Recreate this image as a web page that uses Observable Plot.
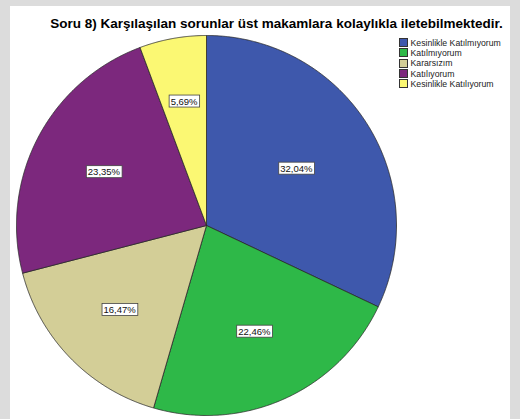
<!DOCTYPE html>
<html><head><meta charset="utf-8">
<script src="https://cdn.jsdelivr.net/npm/d3@7"></script>
<script src="https://cdn.jsdelivr.net/npm/@observablehq/plot@0.6"></script>
<style>
html,body{margin:0;padding:0;}
body{background:#dcdcdc;width:520px;height:419px;overflow:hidden;position:relative;font-family:Arial,"Liberation Sans",sans-serif;}
#panel{position:absolute;left:10px;top:6px;width:500px;height:413px;background:#fff;}
#chart{position:absolute;left:0;top:0;}
#title{position:absolute;left:0;top:16px;width:553px;text-align:center;font-weight:bold;font-size:13.5px;line-height:15px;color:#000;white-space:nowrap;}
#legend{position:absolute;left:399px;top:37.5px;font-size:8.7px;color:#222;}
#legend .row{display:flex;align-items:center;height:10.3px;}
#legend .sw{width:7px;height:7px;border:0.8px solid #333;margin-right:2.5px;}
</style>
</head><body>
<div id="panel"></div>
<div id="chart"></div>
<div id="title"></div>
<div id="legend"></div>
<script>
const titleText = "Soru 8) Karşılaşılan sorunlar üst makamlara kolaylıkla iletebilmektedir.";
const categories = ["Kesinlikle Katılmıyorum", "Katılmıyorum", "Kararsızım", "Katılıyorum", "Kesinlikle Katılıyorum"];
const values = [32.04, 22.46, 16.47, 23.35, 5.69];
const colors = ["#3e58ac", "#2eb848", "#d3ce97", "#7c287d", "#fbf873"];

document.getElementById("title").textContent = titleText;

const arcs = d3.pie().sort(null).value(d => d)(values);
const slices = arcs.map((a, i) => {
  const pts = [{x: 0, y: 0}];
  const n = Math.max(4, Math.ceil((a.endAngle - a.startAngle) / 0.005));
  for (let k = 0; k <= n; k++) {
    const t = a.startAngle + (a.endAngle - a.startAngle) * k / n;
    pts.push({x: Math.sin(t), y: Math.cos(t)});
  }
  pts.push({x: 0, y: 0});
  return {cat: categories[i], color: colors[i], pts};
});
// label at slice centroid
const labels = arcs.map((a, i) => {
  const h = (a.endAngle - a.startAngle) / 2;
  const mid = a.startAngle + h;
  const r = 2 * Math.sin(h) / (3 * h);
  return {x: r * Math.sin(mid), y: r * Math.cos(mid), text: values[i].toFixed(2).replace(".", ",") + "%"};
});

const plot = Plot.plot({
  width: 520, height: 419,
  margin: 0,
  style: {background: "transparent", overflow: "visible"},
  x: {domain: [-1, 1], range: [16, 396], axis: null},
  y: {domain: [-1, 1], range: [415, 35], axis: null},
  marks: [
    ...slices.map(s => Plot.line(s.pts, {x: "x", y: "y", fill: s.color, stroke: "#2a2a2a", strokeWidth: 0.8, strokeLinejoin: "round", curve: "linear"})),
    Plot.text(labels, {x: "x", y: "y", text: "text", fontSize: 9.5, fill: "#111", fontFamily: "Arial, 'Liberation Sans', sans-serif", className: "pct"})
  ]
});
document.getElementById("chart").appendChild(plot);

// white boxes behind percentage labels
plot.querySelectorAll(".pct text").forEach(t => {
  const b = t.getBBox();
  const r = document.createElementNS("http://www.w3.org/2000/svg", "rect");
  r.setAttribute("x", b.x - 1.5);
  r.setAttribute("y", b.y - 0.5);
  r.setAttribute("width", b.width + 3);
  r.setAttribute("height", b.height + 1);
  r.setAttribute("fill", "#fff");
  r.setAttribute("stroke", "#444");
  r.setAttribute("stroke-width", 0.8);
  const tr = t.getAttribute("transform");
  if (tr) r.setAttribute("transform", tr);
  t.parentNode.insertBefore(r, t);
});

const legend = document.getElementById("legend");
categories.forEach((c, i) => {
  const row = document.createElement("div");
  row.className = "row";
  const sw = document.createElement("div");
  sw.className = "sw";
  sw.style.background = colors[i];
  const lab = document.createElement("span");
  lab.textContent = c;
  row.appendChild(sw); row.appendChild(lab);
  legend.appendChild(row);
});
</script>
</body></html>
